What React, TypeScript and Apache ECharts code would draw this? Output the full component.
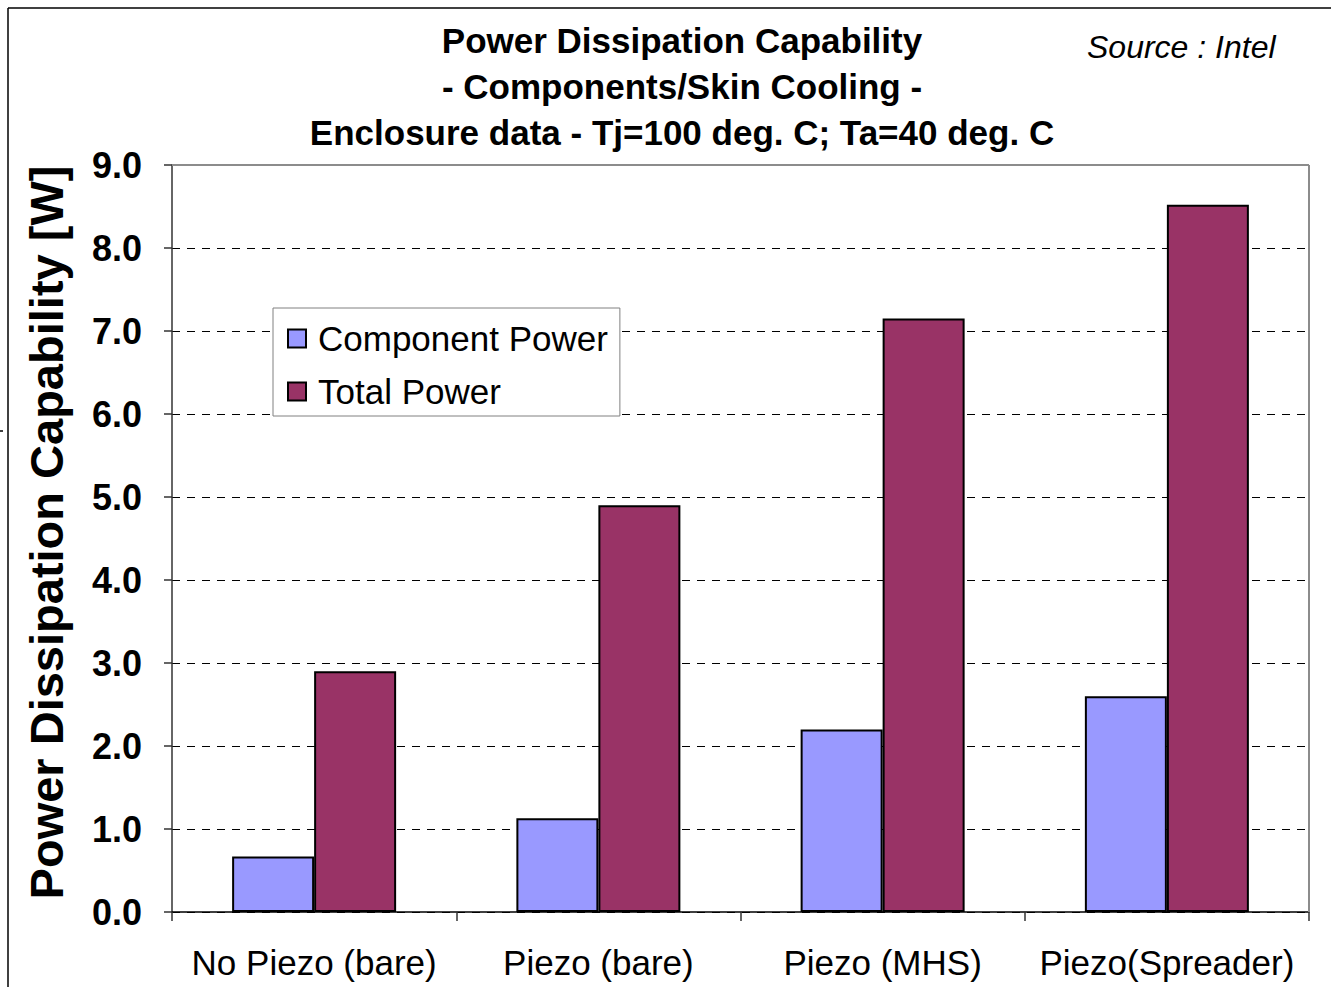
import React, { useEffect, useRef } from "react";
import * as echarts from "echarts";

const categories = ["No Piezo (bare)", "Piezo (bare)", "Piezo (MHS)", "Piezo(Spreader)"];
const componentPower = [0.67, 1.13, 2.2, 2.6];
const totalPower = [2.9, 4.9, 7.15, 8.52];
const titleLines = [
  "Power Dissipation Capability",
  "- Components/Skin Cooling -",
  "Enclosure data - Tj=100 deg. C; Ta=40 deg. C",
];
const yAxisName = "Power Dissipation Capability [W]";
const sourceText = "Source : Intel";

const FONT = "'Liberation Sans', Arial, sans-serif";

export default function App() {
  const ref = useRef<HTMLDivElement>(null);
  useEffect(() => {
    document.body.style.margin = "0";
    const chart = echarts.init(ref.current!, null, { renderer: "svg" });
    chart.setOption({
      animation: false,
      backgroundColor: "#ffffff",
      textStyle: { fontFamily: FONT },
      title: {
        text: titleLines.join("\n"),
        left: 677,
        top: 12,
        textAlign: "center",
        textStyle: {
          fontFamily: FONT,
          fontSize: 35,
          fontWeight: "bold",
          lineHeight: 46,
          color: "#000",
        },
      },
      legend: {
        orient: "vertical",
        left: 273,
        top: 308,
        padding: [13, 12, 7, 14],
        itemWidth: 18,
        itemHeight: 18,
        itemGap: 18,
        backgroundColor: "#ffffff",
        borderColor: "#808080",
        borderWidth: 1,
        borderRadius: 0,
        icon: "rect",
        textStyle: { fontFamily: FONT, fontSize: 35, color: "#000", lineHeight: 34, padding: [0, 0, 0, 7] },
        data: ["Component Power", "Total Power"],
      },
      grid: {
        left: 172,
        top: 165,
        right: 22,
        bottom: 75,
        show: false,
      },
      xAxis: {
        type: "category",
        data: categories,
        axisLine: { lineStyle: { color: "#000", width: 1.5 } },
        axisTick: { show: true, interval: 0, length: 9, lineStyle: { color: "#333", width: 1.5 } },
        axisLabel: { interval: 0, fontFamily: FONT, fontSize: 35, color: "#000", margin: 33 },
        splitLine: { show: false },
      },
      yAxis: {
        type: "value",
        min: 0,
        max: 9,
        interval: 1,
        name: yAxisName,
        nameLocation: "middle",
        nameGap: 102,
        nameTextStyle: { fontFamily: FONT, fontSize: 47, fontWeight: "bold", color: "#000", padding: [0, 0, 0, 12] },
        axisLine: { show: true, lineStyle: { color: "#333", width: 1.5 } },
        axisTick: { show: true, length: 8, lineStyle: { color: "#333", width: 1.5 } },
        axisLabel: {
          fontFamily: FONT,
          fontSize: 36,
          fontWeight: "bold",
          color: "#000",
          margin: 30,
          formatter: (v: number) => v.toFixed(1),
        },
        splitLine: { show: true, lineStyle: { color: "#000", width: 1, type: [8, 7] } },
      },
      series: [
        {
          name: "Component Power",
          type: "bar",
          data: componentPower,
          barWidth: 82,
          barGap: "0%",
          itemStyle: { color: "#9999FF", borderColor: "#000", borderWidth: 2 },
        },
        {
          name: "Total Power",
          type: "bar",
          data: totalPower,
          barWidth: 82,
          barGap: "0%",
          itemStyle: { color: "#993366", borderColor: "#000", borderWidth: 2 },
        },
      ],
      graphic: [
        { type: "line", z: 100, shape: { x1: 172, y1: 165, x2: 1309, y2: 165 }, style: { stroke: "#8c8c8c", lineWidth: 2 } },
        { type: "line", z: 100, shape: { x1: 1309, y1: 165, x2: 1309, y2: 912 }, style: { stroke: "#8c8c8c", lineWidth: 2 } },
        { type: "line", z: 100, shape: { x1: 8, y1: 8, x2: 1331, y2: 8 }, style: { stroke: "#000", lineWidth: 1.5 } },
        { type: "line", z: 100, shape: { x1: 8, y1: 8, x2: 8, y2: 987 }, style: { stroke: "#000", lineWidth: 1.5 } },
        { type: "line", z: 100, shape: { x1: 0, y1: 431, x2: 3, y2: 431 }, style: { stroke: "#000", lineWidth: 1.5 } },
        {
          type: "text",
          z: 100,
          left: 1087,
          top: 31,
          style: {
            text: sourceText,
            fontFamily: FONT,
            fontSize: 32,
            fontStyle: "italic",
            fill: "#000",
          },
        },
      ],
    });
    return () => chart.dispose();
  }, []);
  return <div ref={ref} style={{ width: 1331, height: 987 }} />;
}
